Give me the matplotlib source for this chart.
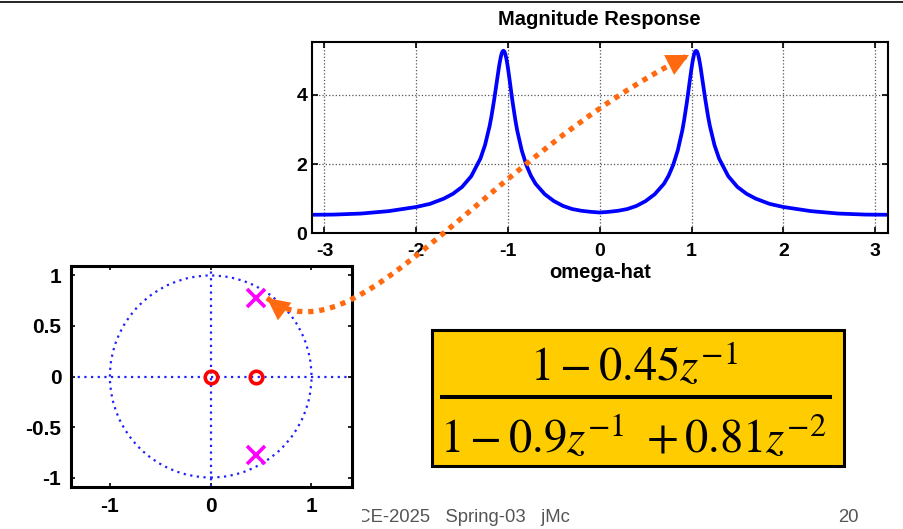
import numpy as np
import matplotlib
matplotlib.use("Agg")
import matplotlib.pyplot as plt
from matplotlib.patches import Circle, Rectangle, FancyArrowPatch, PathPatch
from matplotlib.path import Path
from matplotlib.lines import Line2D

plt.rcParams['font.family'] = ['Liberation Sans', 'DejaVu Sans']
plt.rcParams['axes.unicode_minus'] = False
plt.rcParams['mathtext.fontset'] = 'stix'

# ---------------- data ----------------
omega = [-3.1416, -2.9, -2.6, -2.3, -2.0, -1.85, -1.7, -1.6, -1.5, -1.4, -1.3, -1.25,
         -1.2, -1.18, -1.15, -1.13, -1.12, -1.1, -1.09, -1.08, -1.07, -1.06, -1.05,
         -1.04, -1.03, -1.02, -1.01, -1.0, -0.99, -0.98, -0.97, -0.95, -0.92,
         -0.9, -0.85, -0.8, -0.75, -0.7, -0.6, -0.5, -0.4, -0.3, -0.2, -0.1,
         0.0,
         0.1, 0.2, 0.3, 0.4, 0.5, 0.6, 0.7, 0.75, 0.8, 0.85, 0.9, 0.92, 0.95, 0.97,
         0.98, 0.99, 1.0, 1.01, 1.02, 1.03, 1.04, 1.05, 1.06, 1.07, 1.08, 1.09, 1.1,
         1.12, 1.13, 1.15, 1.18, 1.2, 1.25, 1.3, 1.4, 1.5,
         1.6, 1.7, 1.85, 2.0, 2.3, 2.6, 2.9, 3.1416]
magnitude = [0.535, 0.54, 0.57, 0.64, 0.76, 0.85, 1.00, 1.14, 1.34, 1.65, 2.16, 2.55,
             3.10, 3.38, 3.87, 4.23, 4.41, 4.77, 4.93, 5.07, 5.18, 5.25, 5.27,
             5.25, 5.18, 5.07, 4.93, 4.76, 4.57, 4.38, 4.18, 3.79, 3.27,
             2.97, 2.39, 1.97, 1.66, 1.43, 1.13, 0.93, 0.79, 0.70, 0.65, 0.62,
             0.60,
             0.62, 0.65, 0.70, 0.79, 0.93, 1.13, 1.43, 1.66, 1.97, 2.39, 2.97, 3.27, 3.79, 4.18,
             4.38, 4.57, 4.76, 4.93, 5.07, 5.18, 5.25, 5.27, 5.25, 5.18, 5.07, 4.93, 4.77,
             4.41, 4.23, 3.87, 3.38, 3.10, 2.55, 2.16, 1.65, 1.34,
             1.14, 1.00, 0.85, 0.76, 0.64, 0.57, 0.54, 0.535]
mag_xticks = [-3, -2, -1, 0, 1, 2, 3]
mag_yticks = [0, 2, 4]

zeros_re = [0.0, 0.45]
zeros_im = [0.0, 0.0]
poles_re = [0.45, 0.45]
poles_im = [0.779, -0.779]
pz_xticks = [-1, 0, 1]
pz_yticks = [-1, -0.5, 0, 0.5, 1]
pz_yticklabels = ['-1', '-0.5', '0', '0.5', '1']

numerator_tex = r'$1-0.45z^{-1}$'
denominator_tex = r'$1-0.9z^{-1}\ +0.81z^{-2}$'
footer_left = 'ECE-2025   Spring-03   jMc'
footer_right = '20'

# ---------------- layout helpers ----------------
W, H = 904, 529
fig = plt.figure(figsize=(W / 100, H / 100), dpi=100)
fig.patch.set_facecolor('white')

def fx(x):
    return x / W

def fy(y):
    return 1 - y / H

def bold_ticklabels(ax):
    for lab in ax.get_xticklabels() + ax.get_yticklabels():
        lab.set_fontweight('bold')

# top rule
fig.add_artist(Line2D([0, 1], [fy(2), fy(2)], transform=fig.transFigure,
                      color='black', lw=1.2))

# ---------------- magnitude response ----------------
ax1 = fig.add_axes([fx(311.5), fy(233.3), (888 - 311.5) / W, (233.3 - 41.7) / H])
ax1.plot(omega, magnitude, color='#0000ff', lw=2.7, solid_joinstyle='round')
ax1.set_xlim(-np.pi, np.pi)
ax1.set_ylim(0, 5.53)
ax1.set_xticks(mag_xticks)
ax1.set_yticks(mag_yticks)
ax1.grid(True, linestyle=':', color='#555555', lw=0.9)
ax1.tick_params(direction='in', top=True, right=True, length=4, width=1.2,
                labelsize=14, pad=3)
ax1.tick_params(axis='x', pad=7)
bold_ticklabels(ax1)
for s in ax1.spines.values():
    s.set_linewidth(1.5)
ax1.set_title('Magnitude Response', fontsize=14.5, fontweight='bold', pad=12)
ax1.set_xlabel('omega-hat', fontsize=14.5, fontweight='bold', labelpad=2)

# ---------------- footer (partially hidden behind pole-zero figure) ----------------
fig.text(fx(345), fy(518), footer_left, fontsize=13.3, color='#555555',
         va='center', ha='left', zorder=1)
fig.text(fx(838), fy(518), footer_right, fontsize=13.3, color='#555555',
         va='center', ha='left', zorder=1)
fig.add_artist(Rectangle((0, 0), fx(362), fy(258), transform=fig.transFigure,
                         facecolor='white', edgecolor='none', zorder=1.5))

# ---------------- pole-zero plot ----------------
ax2 = fig.add_axes([fx(71), fy(487), (352 - 71) / W, (487 - 266) / H])
ax2.set_zorder(2)
ax2.add_patch(Circle((0, 0), 1, fill=False, ls=(0, (1, 2)), ec='#2020ff', lw=1.6))
ax2.axhline(0, ls=(0, (1, 2)), color='#2020ff', lw=1.6)
ax2.axvline(0, ls=(0, (1, 2)), color='#2020ff', lw=1.6)
ax2.plot(zeros_re, zeros_im, 'o', ms=9, mfc='none', mec='#ff0000', mew=2.6)
ax2.plot(poles_re, poles_im, 'x', ms=12.5, mec='#ff00ff', mew=2.6)
ax2.set_xlim(-1.386, 1.402)
ax2.set_ylim(-1.094, 1.094)
ax2.set_xticks(pz_xticks)
ax2.set_yticks(pz_yticks)
ax2.set_yticklabels(pz_yticklabels)
ax2.tick_params(direction='in', top=True, right=True, length=3, width=1.2,
                labelsize=15, pad=7)
bold_ticklabels(ax2)
for s in ax2.spines.values():
    s.set_linewidth(2.2)

# ---------------- transfer function box ----------------
fig.add_artist(Rectangle((fx(432), fy(466)), (844 - 432) / W, (466 - 330) / H,
                         transform=fig.transFigure, facecolor='#ffcc00',
                         edgecolor='black', lw=2.2, zorder=3))
fig.add_artist(Line2D([fx(442), fx(830)], [fy(397), fy(397)], transform=fig.transFigure,
                      color='black', lw=2.9, zorder=4))
fig.text(fx(634), fy(381), numerator_tex, fontsize=33.5, ha='center', va='baseline',
         zorder=4)
fig.text(fx(633), fy(453), denominator_tex, fontsize=33.5, ha='center', va='baseline',
         zorder=4)

# ---------------- orange dotted arrow ----------------
arrow_color = '#ff6a10'
verts_px = [(267, 298), (357, 367), (480, 160), (689, 55)]
verts = [(fx(x), fy(y)) for x, y in verts_px]
arrow_path = Path(verts, [Path.MOVETO, Path.CURVE4, Path.CURVE4, Path.CURVE4])
# dotted body
fig.add_artist(PathPatch(arrow_path, transform=fig.transFigure, fill=False,
                         edgecolor=arrow_color, lw=3.8, linestyle=(0, (1, 1.1)),
                         capstyle='butt', zorder=10))
# solid filled heads
heads = FancyArrowPatch(path=arrow_path, transform=fig.transFigure,
                        arrowstyle='<|-|>,head_length=16,head_width=8',
                        mutation_scale=1, facecolor=arrow_color,
                        edgecolor=arrow_color, lw=0, zorder=11)
fig.add_artist(heads)

fig.savefig('out.png', dpi=100)
